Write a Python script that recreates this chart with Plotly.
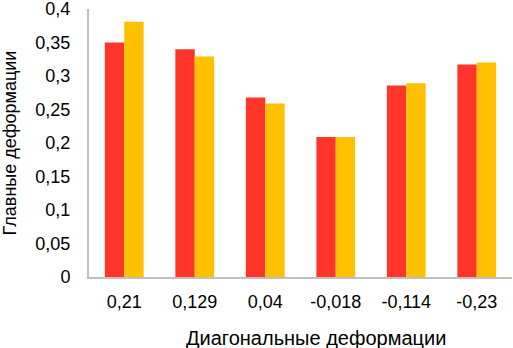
import plotly.graph_objects as go

categories = ["0,21", "0,129", "0,04", "-0,018", "-0,114", "-0,23"]
series_red = [0.35, 0.34, 0.268, 0.209, 0.286, 0.317]
series_yellow = [0.381, 0.329, 0.259, 0.209, 0.289, 0.32]
y_ticks = [0, 0.05, 0.1, 0.15, 0.2, 0.25, 0.3, 0.35, 0.4]
y_ticktext = [("%g" % v).replace(".", ",") for v in y_ticks]
x_title = "Диагональные деформации"
y_title = "Главные деформации"

fig = go.Figure()
fig.add_trace(go.Bar(x=categories, y=series_red, marker=dict(color="#FF3529", line=dict(width=0)), name="1"))
fig.add_trace(go.Bar(x=categories, y=series_yellow, marker=dict(color="#FFC000", line=dict(width=0)), name="2"))

fig.update_layout(
    width=513, height=348,
    margin=dict(l=89, r=1, t=9, b=71),
    paper_bgcolor="white", plot_bgcolor="white",
    barmode="group", bargap=0.45, bargroupgap=0,
    showlegend=False,
    font=dict(family="Liberation Sans, Arial, sans-serif", size=18, color="#000000"),
    xaxis=dict(
        automargin=False,
        showline=True, linecolor="#BFBFBF", linewidth=2,
        showgrid=False, ticks="", ticklabelstandoff=7,
        tickfont=dict(size=18),
    ),
    yaxis=dict(
        automargin=False,
        range=[0, 0.4], tickvals=y_ticks, ticktext=y_ticktext,
        showline=True, linecolor="#BFBFBF", linewidth=2,
        showgrid=False, zeroline=False, ticks="", ticklabelstandoff=13,
        ticklabeloverflow="allow",
        tickfont=dict(size=18),
        title=dict(text=y_title, font=dict(size=18), standoff=17),
    ),
    annotations=[dict(
        text=x_title, xref="paper", yref="paper", x=0.537, y=-0.226,
        xanchor="center", yanchor="middle", showarrow=False,
        font=dict(size=20),
    )],
)

fig.write_html("out.html", config={"displayModeBar": False},
               post_script="document.body.style.margin='0';document.body.style.padding='0';")
